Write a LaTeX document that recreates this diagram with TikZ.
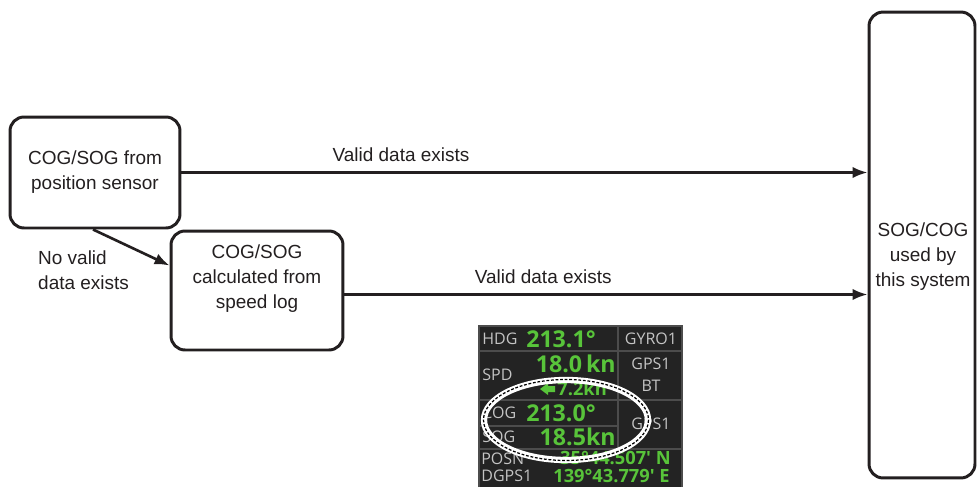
\documentclass[tikz,border=0pt]{standalone}
\usepackage{fontspec}
\setmainfont{Liberation Sans}
\newfontfamily\panelfont{Open Sans}
\usetikzlibrary{arrows.meta, positioning, shapes.geometric}

\definecolor{ink}{HTML}{231F20}
\definecolor{scrbg}{HTML}{232323}
\definecolor{scrline}{HTML}{4C4C4C}
\definecolor{scrtext}{HTML}{C4C4C4}
\definecolor{scrgreen}{HTML}{58C43A}

\begin{document}
\begin{tikzpicture}[
    x=0.02cm, y=-0.02cm,
    font=\fontsize{10.8}{14.2}\selectfont,
    text=ink,
    block/.style={
        draw=ink, line width=1.7pt,
        rounded corners=0.28cm,
        align=center
    },
    note/.style={align=center},
    arrow/.style={-{Latex[length=8.5pt,width=6.5pt]}, draw=ink, line width=1.5pt},
    scrlabel/.style={font=\panelfont\fontsize{9.1}{10}\selectfont, text=scrtext, inner sep=0pt},
    scrvalue/.style={font=\panelfont\bfseries\fontsize{13.2}{14}\selectfont, text=scrgreen, inner sep=0pt},
    scrpos/.style={font=\panelfont\bfseries\fontsize{10.4}{11}\selectfont, text=scrgreen, inner sep=0pt}
]
\useasboundingbox (0,0) rectangle (977,487);

% ===== BLOCKS =====
\node[block, minimum width=3.4cm, minimum height=2.22cm] (possensor) at (95,172.5)
{COG/SOG from\\position sensor};

\node[block, minimum width=3.44cm, minimum height=2.38cm] (speedlog) at (257,290.5) {};
\node[note] (speedlogtxt) at (257,279) {COG/SOG\\calculated from\\speed log};

\node[block, minimum width=2.12cm, minimum height=9.32cm] (system) at (922,245) {};
\node[note] (systemtxt) at (923,257) {SOG/COG\\used by\\this system};

% ===== ARROWS =====
\draw[arrow] (possensor.east) -- node[pos=0.32, above=2pt]{Valid data exists}
  (possensor.east -| system.west);

\coordinate (logout) at ([yshift=-0.08cm]speedlog.east);
\draw[arrow] (logout) -- node[pos=0.38, above=2pt]{Valid data exists}
  (logout -| system.west);

\draw[arrow] ([xshift=-0.04cm]possensor.south) -- ([yshift=0.5cm]speedlog.west);
\node[align=left, anchor=west] (novalid) at (32,270.5) {No valid\\data exists};

% ===== DISPLAY PANEL =====
\fill[scrbg] (479,326) rectangle (682,487);
\draw[scrline, line width=0.6pt] (479,487) -- (479,326) -- (682,326) -- (682,487);
\draw[scrline, line width=0.6pt] (479,351) -- (682,351);
\draw[scrline, line width=0.6pt] (479,400) -- (682,400);
\draw[scrline, line width=0.6pt] (479,449) -- (682,449);
\draw[scrline, line width=0.6pt] (479,426) -- (618,426);
\draw[scrline, line width=0.6pt] (618,326) -- (618,449);

\node[scrlabel, anchor=west] (hdg) at (482,339) {HDG};
\node[scrvalue] (hdgval) at (561,339) {213.1°};
\node[scrlabel] (gyro) at (651,339) {GYRO1};

\node[scrlabel, anchor=west] (spd) at (482,375) {SPD};
\node[scrvalue, anchor=east] (spdval) at (616,364) {18.0\,kn};
\node[scrlabel] (gpsbt) at (651,364) {GPS1};
\node[scrlabel] (bt) at (651,386) {BT};
\fill[scrgreen] (540,389) -- (548,383) -- (548,386) -- (555,386) -- (555,392)
  -- (548,392) -- (548,395) -- cycle;
\node[scrpos, anchor=west] (watspd) at (557,389) {7.2kn};

\node[scrlabel, anchor=west] (cog) at (482,413) {COG};
\node[scrvalue] (cogval) at (561,413) {213.0°};
\node[scrlabel, anchor=west] (sog) at (482,437) {SOG};
\node[scrvalue, anchor=east] (sogval) at (616,437) {18.5kn};
\node[scrlabel] (gpsone) at (651,424) {GPS1};

\node[scrlabel, anchor=west] (posn) at (481,459) {POSN};
\node[scrpos, anchor=east] (lat) at (671,458) {35°44.507' N};
\node[scrlabel, anchor=west] (dgps) at (481,476) {DGPS1};
\node[scrpos, anchor=east] (lon) at (670,476) {139°43.779' E};

% ===== HIGHLIGHT RING =====
\draw[white, line width=3.6pt] (566,420) ellipse [x radius=82, y radius=40];
\draw[black, line width=0.7pt, dash pattern=on 1.6pt off 1pt] (566,420) ellipse [x radius=82.5, y radius=40.5];

\end{tikzpicture}
\end{document}
